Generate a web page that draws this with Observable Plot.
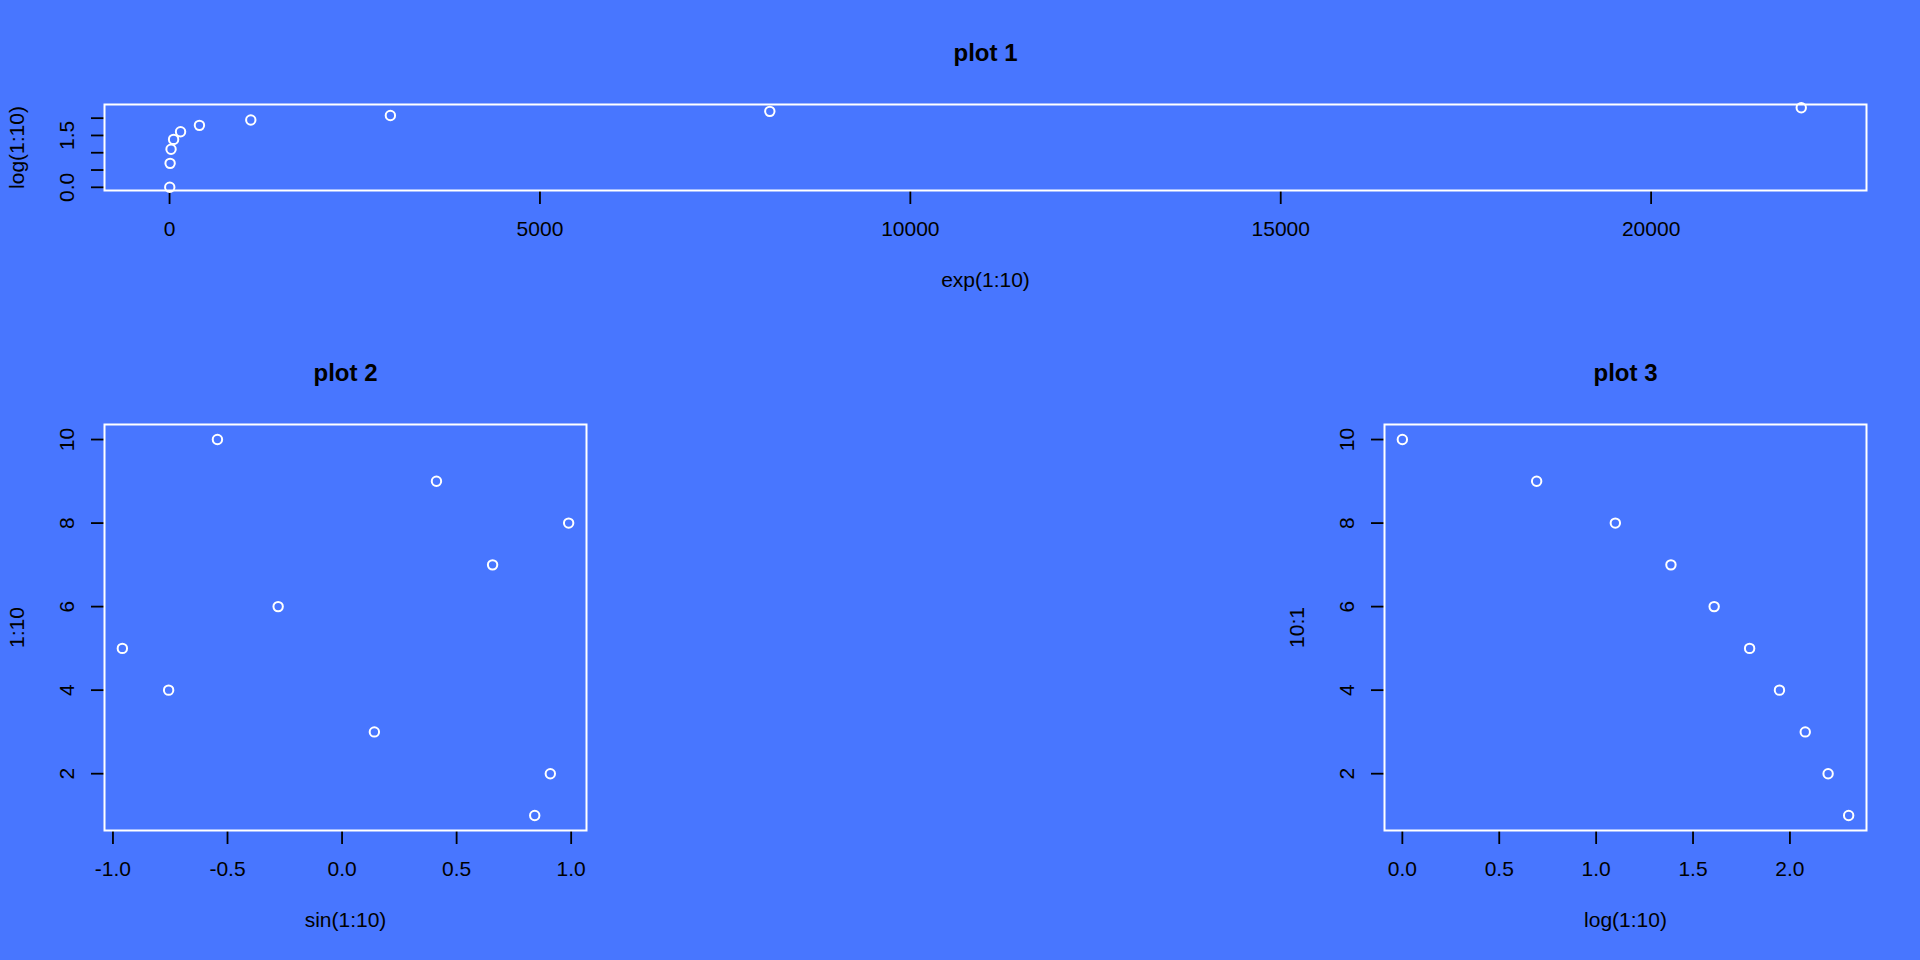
<!DOCTYPE html>
<html>
<head>
<meta charset="utf-8">
<script src="https://cdn.jsdelivr.net/npm/d3@7"></script>
<script src="https://cdn.jsdelivr.net/npm/@observablehq/plot@0.6"></script>
<style>
  html, body { margin: 0; padding: 0; background: #4876FF; }
  #wrap { position: relative; width: 1920px; height: 960px; background: #4876FF; overflow: hidden; }
  .panel { position: absolute; }
</style>
</head>
<body>
<div id="wrap">
  <div class="panel" id="p1" style="left:0px;top:0px;"></div>
  <div class="panel" id="p2" style="left:0px;top:320px;"></div>
  <div class="panel" id="p3" style="left:1280px;top:320px;"></div>
</div>
<script>
// ---- data (values as read / known) ----
const idx = [1, 2, 3, 4, 5, 6, 7, 8, 9, 10];
const idxRev = [10, 9, 8, 7, 6, 5, 4, 3, 2, 1];
const expVals = [2.718, 7.389, 20.09, 54.60, 148.4, 403.4, 1096.6, 2981.0, 8103.1, 22026.5];
const logVals = [0, 0.693, 1.099, 1.386, 1.609, 1.792, 1.946, 2.079, 2.197, 2.303];
const sinVals = [0.841, 0.909, 0.141, -0.757, -0.959, -0.279, 0.657, 0.989, 0.412, -0.544];

// tick values and labels
const p1XTicks = [0, 5000, 10000, 15000, 20000];
const p1XLabels = ["0", "5000", "10000", "15000", "20000"];
const p1YTicks = [0, 0.5, 1, 1.5, 2];
const p1YLabels = ["0.0", "", "", "1.5", ""];
const p2XTicks = [-1, -0.5, 0, 0.5, 1];
const p2XLabels = ["-1.0", "-0.5", "0.0", "0.5", "1.0"];
const p3XTicks = [0, 0.5, 1, 1.5, 2];
const p3XLabels = ["0.0", "0.5", "1.0", "1.5", "2.0"];
const intYTicks = [2, 4, 6, 8, 10];
const intYLabels = ["2", "4", "6", "8", "10"];

const titles = ["plot 1", "plot 2", "plot 3"];
const xTitles = ["exp(1:10)", "sin(1:10)", "log(1:10)"];
const yTitles = ["log(1:10)", "1:10", "10:1"];

// R-style axis range (4% extension)
function rRange(a) {
  const lo = d3.min(a), hi = d3.max(a), e = (hi - lo) * 0.04;
  return [lo - e, hi + e];
}
function fmtFrom(ticks, labels) {
  const m = new Map(ticks.map((t, i) => [t, labels[i]]));
  return d => m.get(d) ?? "";
}

const FONT = "'Liberation Sans', Arial, Helvetica, sans-serif";

function panel({width, height, xs, ys, xTicks, xLabels, yTicks, yLabels, title, xTitle, yTitle}) {
  const pts = xs.map((x, i) => ({x, y: ys[i]}));
  return Plot.plot({
    width, height,
    marginLeft: 104, marginRight: 54, marginTop: 104, marginBottom: 130,
    style: {background: "transparent", fontFamily: FONT, fontSize: "21px", color: "black", overflow: "visible"},
    x: {domain: rRange(xs)},
    y: {domain: rRange(ys)},
    marks: [
      Plot.axisX(xTicks, {label: null, tickSize: 14, tickPadding: 17, tickFormat: fmtFrom(xTicks, xLabels), stroke: "black", strokeWidth: 1.8, fill: "black", fontSize: 21}),
      Plot.axisY(yTicks, {label: null, tickSize: 13, tickPadding: 18, tickRotate: -90, tickFormat: fmtFrom(yTicks, yLabels), stroke: "black", strokeWidth: 1.8, fill: "black", fontSize: 21}),
      Plot.frame({stroke: "white", strokeWidth: 2}),
      Plot.dot(pts, {x: "x", y: "y", r: 4.7, stroke: "white", strokeWidth: 2, fill: "none"}),
      Plot.text([title], {frameAnchor: "top", textAnchor: "middle", dy: -44, lineAnchor: "bottom", fontWeight: "bold", fontSize: 24, fill: "black"}),
      Plot.text([xTitle], {frameAnchor: "bottom", textAnchor: "middle", dy: 90, lineAnchor: "middle", fontSize: 21, fill: "black"}),
      Plot.text([yTitle], {frameAnchor: "left", textAnchor: "middle", dx: -87, rotate: -90, lineAnchor: "middle", fontSize: 21, fill: "black"})
    ]
  });
}

document.getElementById("p1").appendChild(panel({
  width: 1920, height: 320, xs: expVals, ys: logVals,
  xTicks: p1XTicks, xLabels: p1XLabels, yTicks: p1YTicks, yLabels: p1YLabels,
  title: titles[0], xTitle: xTitles[0], yTitle: yTitles[0]
}));
document.getElementById("p2").appendChild(panel({
  width: 640, height: 640, xs: sinVals, ys: idx,
  xTicks: p2XTicks, xLabels: p2XLabels, yTicks: intYTicks, yLabels: intYLabels,
  title: titles[1], xTitle: xTitles[1], yTitle: yTitles[1]
}));
document.getElementById("p3").appendChild(panel({
  width: 640, height: 640, xs: logVals, ys: idxRev,
  xTicks: p3XTicks, xLabels: p3XLabels, yTicks: intYTicks, yLabels: intYLabels,
  title: titles[2], xTitle: xTitles[2], yTitle: yTitles[2]
}));
</script>
</body>
</html>
